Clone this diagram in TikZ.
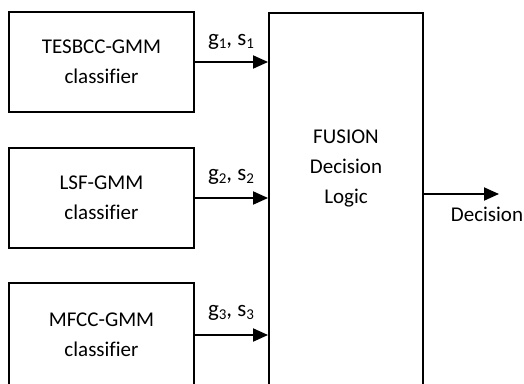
\documentclass[tikz,border=0pt]{standalone}
\usepackage{fontspec}
\setmainfont[Ligatures=NoCommon]{Carlito}
\usetikzlibrary{arrows.meta,calc}
\newcommand{\sub}[1]{{\fontsize{15}{15}\selectfont\raisebox{-2.5pt}{#1}}}
\begin{document}
\begin{tikzpicture}[x=1pt,y=-1pt,
  every node/.style={font=\fontsize{21}{30}\selectfont},
  block/.style={draw,line width=1.9pt,minimum width=185pt,minimum height=100pt,align=center,inner sep=0pt},
  flow/.style={line width=1.9pt,-{Triangle[length=15pt,width=13pt]}},
  tag/.style={inner sep=0pt}]
  \clip (0,0) rectangle (524,383);
  \fill[white] (0,0) rectangle (524,383);
  % classifiers
  \node[block] (c1) at (101.5,62) {TESBCC-GMM\\classifier};
  \node[block] (c2) at (101.5,198) {LSF-GMM\\classifier};
  \node[block,minimum height=104pt] (c3) at (101.5,335) {MFCC-GMM\\classifier};
  % fusion block (runs past the lower edge)
  \node[draw,line width=1.9pt,minimum width=154pt,minimum height=400pt,anchor=north,inner sep=0pt] (fusion) at (346,12) {};
  \node[align=center,tag] (fusiontext) at (346,168) {FUSION\\Decision\\Logic};
  % score links
  \draw[flow] (c1.east) -- (c1.east -| fusion.west);
  \draw[flow] (c2.east) -- (c2.east -| fusion.west);
  \draw[flow] (c3.east) -- (c3.east -| fusion.west);
  \node[tag,font=\fontsize{23}{30}\selectfont] (l1) at (231,42) {g\sub{1}, s\sub{1}};
  \node[tag,font=\fontsize{23}{30}\selectfont] (l2) at (231,177) {g\sub{2}, s\sub{2}};
  \node[tag,font=\fontsize{23}{30}\selectfont] (l3) at (231,313) {g\sub{3}, s\sub{3}};
  % output
  \coordinate (out) at (499,194);
  \draw[flow] (fusion.east |- out) -- (out);
  \node[tag] (dec) at (487,214) {Decision};
\end{tikzpicture}
\end{document}
